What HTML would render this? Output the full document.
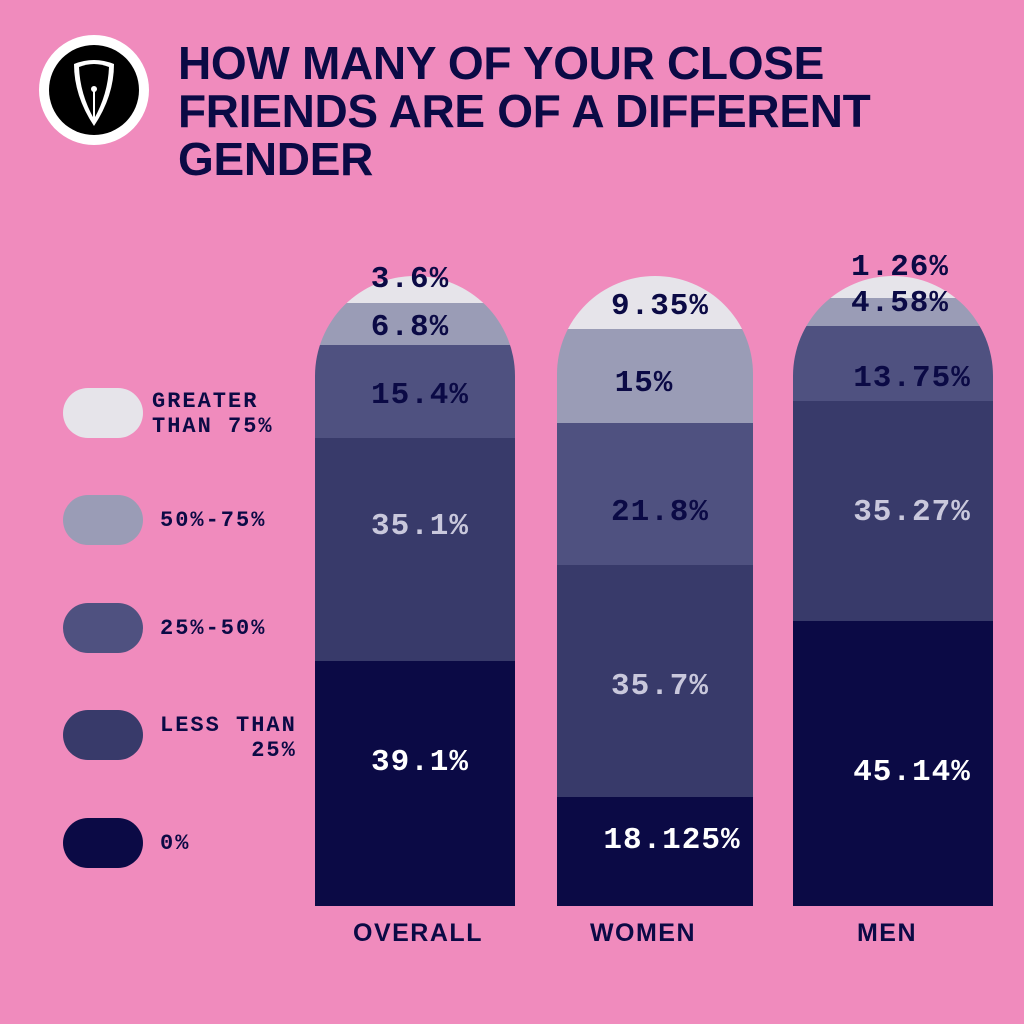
<!DOCTYPE html>
<html><head><style>
body{margin:0;width:1024px;height:1024px;background:#f08bbd;position:relative;overflow:hidden;font-family:"Liberation Mono",monospace;font-weight:bold;color:#0b0a45}
.t{position:absolute;left:178px;top:39px;font-family:"Liberation Sans",sans-serif;font-size:46px;line-height:48px;letter-spacing:-0.3px;font-weight:bold}
.bar{position:absolute;top:276px;height:630px;border-radius:100px 100px 0 0;overflow:hidden}
.s{position:absolute;left:0;right:0}
.l{position:absolute;font-size:31px;letter-spacing:1px;text-align:center;width:200px;line-height:30px}
.pill{position:absolute;left:63px;width:80px;height:50px;border-radius:25px}
.lt{position:absolute;font-size:22px;letter-spacing:2px;line-height:25px;text-align:right}
.x{position:absolute;top:919px;font-family:"Liberation Sans",sans-serif;font-size:25px;font-weight:900;letter-spacing:1.5px;width:200px;text-align:center}
</style></head><body>
<svg style="position:absolute;left:38px;top:34px" width="112" height="112">
<circle cx="56" cy="56" r="55" fill="#fff"/><circle cx="56" cy="56" r="45" fill="#000"/>
<path d="M36 30 Q56 22 76 30 Q76 62 56 92 Q36 62 36 30Z" fill="#fff"/>
<path d="M41 33 Q56 27 71 33 Q70 60 56 85 Q42 60 41 33Z" fill="#000"/>
<line x1="56" y1="55" x2="56" y2="85" stroke="#fff" stroke-width="2"/><circle cx="56" cy="55" r="3" fill="#fff"/>
</svg>
<div class="t">HOW MANY OF YOUR CLOSE<br>FRIENDS ARE OF A DIFFERENT<br>GENDER</div>

<div class="pill" style="top:388px;background:#e6e4ea"></div>
<div class="lt" style="left:152px;top:389px;text-align:left">GREATER<br>THAN 75%</div>
<div class="pill" style="top:495px;background:#9a9cb6"></div>
<div class="lt" style="left:160px;top:508px">50%-75%</div>
<div class="pill" style="top:603px;background:#4f5180"></div>
<div class="lt" style="left:160px;top:616px">25%-50%</div>
<div class="pill" style="top:710px;background:#383a6a"></div>
<div class="lt" style="left:160px;top:713px">LESS THAN<br>25%</div>
<div class="pill" style="top:818px;background:#0b0a45"></div>
<div class="lt" style="left:160px;top:831px">0%</div>

<div class="bar" style="left:315px;width:200px">
<div class="s" style="top:0;height:27px;background:#e6e4ea"></div>
<div class="s" style="top:27px;height:42px;background:#9a9cb6"></div>
<div class="s" style="top:69px;height:93px;background:#4f5180"></div>
<div class="s" style="top:162px;height:223px;background:#383a6a"></div>
<div class="s" style="top:385px;height:245px;background:#0b0a45"></div>
</div>
<div class="l" style="left:310px;top:265px">3.6%</div>
<div class="l" style="left:310px;top:313px">6.8%</div>
<div class="l" style="left:320px;top:381px">15.4%</div>
<div class="l" style="left:320px;top:512px;color:#c9c8dc">35.1%</div>
<div class="l" style="left:320px;top:748px;color:#fff">39.1%</div>

<div class="bar" style="left:557px;width:196px">
<div class="s" style="top:0;height:53px;background:#e6e4ea"></div>
<div class="s" style="top:53px;height:94px;background:#9a9cb6"></div>
<div class="s" style="top:147px;height:142px;background:#4f5180"></div>
<div class="s" style="top:289px;height:232px;background:#383a6a"></div>
<div class="s" style="top:521px;height:109px;background:#0b0a45"></div>
</div>
<div class="l" style="left:560px;top:292px">9.35%</div>
<div class="l" style="left:544px;top:369px">15%</div>
<div class="l" style="left:560px;top:498px">21.8%</div>
<div class="l" style="left:560px;top:672px;color:#c9c8dc">35.7%</div>
<div class="l" style="left:572px;top:826px;color:#fff">18.125%</div>

<div class="bar" style="left:793px;width:200px">
<div class="s" style="top:0;height:22px;background:#e6e4ea"></div>
<div class="s" style="top:22px;height:50px;background:#9a9cb6"></div>
<div class="s" style="top:50px;height:75px;background:#4f5180"></div>
<div class="s" style="top:125px;height:220px;background:#383a6a"></div>
<div class="s" style="top:345px;height:285px;background:#0b0a45"></div>
</div>
<div class="l" style="left:800px;top:253px">1.26%</div>
<div class="l" style="left:800px;top:289px">4.58%</div>
<div class="l" style="left:812px;top:364px">13.75%</div>
<div class="l" style="left:812px;top:498px;color:#c9c8dc">35.27%</div>
<div class="l" style="left:812px;top:758px;color:#fff">45.14%</div>

<div class="x" style="left:318px">OVERALL</div>
<div class="x" style="left:543px">WOMEN</div>
<div class="x" style="left:787px">MEN</div>
</body></html>
